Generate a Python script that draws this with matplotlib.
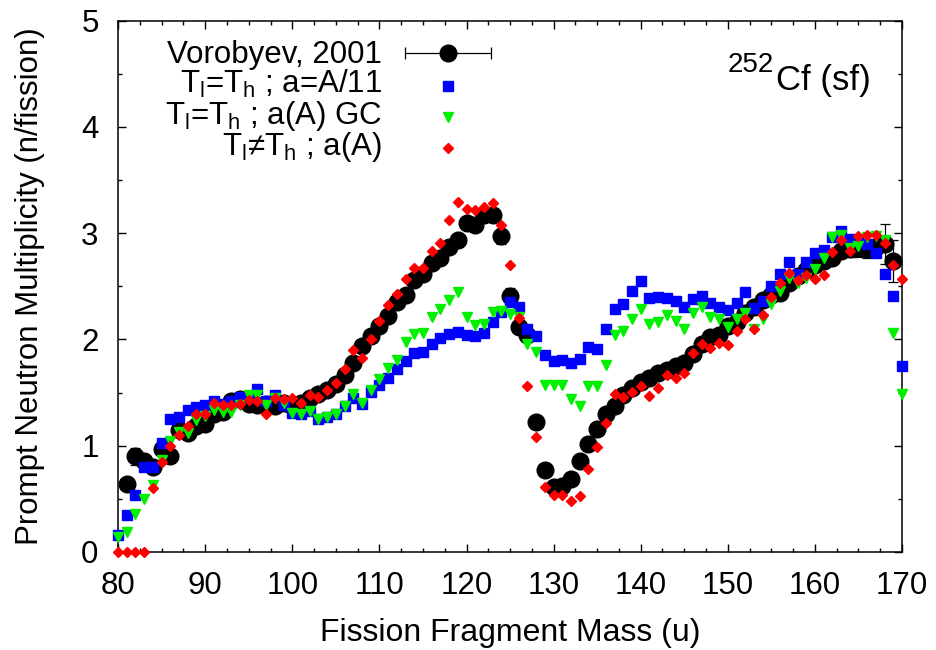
import numpy as np
import matplotlib
matplotlib.use("Agg")
import matplotlib.pyplot as plt

plt.rcParams['font.family'] = ['Liberation Sans', 'DejaVu Sans']
plt.rcParams['mathtext.fontset'] = 'custom'
plt.rcParams['mathtext.rm'] = 'Liberation Sans'
plt.rcParams['mathtext.it'] = 'Liberation Sans'
plt.rcParams['mathtext.default'] = 'regular'

# ---------------- data ----------------
mass_exp = list(range(81, 170))
nu_exp = [0.64, 0.90, 0.86, 0.80, 0.97, 0.90, 1.15, 1.12, 1.19, 1.20,
          1.30, 1.32, 1.42, 1.44, 1.39, 1.38, 1.39, 1.37, 1.40, 1.37,
          1.40, 1.45, 1.49, 1.52, 1.58, 1.67, 1.78, 1.94, 2.03, 2.13,
          2.22, 2.35, 2.42, 2.56, 2.62, 2.72, 2.77, 2.87, 2.94, 3.10,
          3.08, 3.17, 3.17, 2.97, 2.41, 2.12, 2.04, 1.22, 0.77, 0.61,
          0.62, 0.69, 0.86, 1.02, 1.16, 1.30, 1.37, 1.48, 1.54, 1.60,
          1.64, 1.68, 1.71, 1.75, 1.78, 1.86, 1.96, 2.02, 2.04, 2.13,
          2.16, 2.25, 2.31, 2.37, 2.42, 2.44, 2.53, 2.60, 2.65, 2.70,
          2.74, 2.77, 2.83, 2.85, 2.86, 2.85, 2.87, 2.90, 2.74]
err_exp = [0.05, 0.08, 0.05, 0.04, 0.04, 0.03, 0.03, 0.03, 0.03, 0.03,
           0.03, 0.03, 0.03, 0.03, 0.03, 0.03, 0.03, 0.03, 0.03, 0.03,
           0.03, 0.03, 0.03, 0.03, 0.03, 0.03, 0.03, 0.03, 0.03, 0.03,
           0.03, 0.03, 0.03, 0.03, 0.03, 0.03, 0.03, 0.03, 0.03, 0.03,
           0.03, 0.04, 0.05, 0.07, 0.07, 0.06, 0.05, 0.04, 0.03, 0.03,
           0.03, 0.03, 0.03, 0.03, 0.03, 0.03, 0.03, 0.03, 0.03, 0.03,
           0.03, 0.03, 0.03, 0.03, 0.03, 0.03, 0.03, 0.03, 0.03, 0.03,
           0.03, 0.03, 0.03, 0.03, 0.03, 0.03, 0.03, 0.03, 0.03, 0.04,
           0.04, 0.05, 0.06, 0.07, 0.08, 0.08, 0.08, 0.19, 0.20]

mass_calc = list(range(80, 171))
nu_a11 = [0.16, 0.35, 0.54, 0.80, 0.80, 1.03, 1.25, 1.27, 1.34, 1.36,
          1.38, 1.42, 1.39, 1.42, 1.46, 1.45, 1.53, 1.42, 1.48, 1.38,
          1.31, 1.30, 1.33, 1.25, 1.27, 1.30, 1.37, 1.45, 1.39, 1.51,
          1.57, 1.64, 1.72, 1.80, 1.87, 1.88, 1.96, 2.01, 2.05, 2.07,
          2.04, 2.03, 2.06, 2.16, 2.26, 2.35, 2.31, 2.10, 2.03, 1.85,
          1.80, 1.81, 1.78, 1.82, 1.93, 1.91, 2.10, 2.29, 2.33, 2.46,
          2.55, 2.39, 2.40, 2.39, 2.36, 2.31, 2.38, 2.41, 2.34, 2.31,
          2.28, 2.34, 2.45, 2.30, 2.36, 2.50, 2.62, 2.73, 2.62, 2.73,
          2.81, 2.84, 2.96, 3.02, 2.95, 2.94, 2.90, 2.81, 2.62, 2.41,
          1.75]
nu_gc = [0.14, 0.19, 0.36, 0.50, 0.63, 0.87, 1.04, 1.13, 1.12, 1.24,
         1.28, 1.34, 1.32, 1.32, 1.38, 1.48, 1.48, 1.38, 1.45, 1.40,
         1.31, 1.30, 1.33, 1.25, 1.27, 1.30, 1.37, 1.49, 1.40, 1.52,
         1.63, 1.73, 1.81, 1.98, 2.05, 2.06, 2.21, 2.29, 2.37, 2.45,
         2.21, 2.14, 2.15, 2.26, 2.27, 2.24, 2.21, 1.96, 1.88, 1.57,
         1.57, 1.57, 1.44, 1.37, 1.56, 1.56, 1.76, 2.04, 2.08, 2.19,
         2.29, 2.15, 2.16, 2.23, 2.17, 2.10, 2.25, 2.31, 2.21, 2.19,
         2.12, 2.19, 2.25, 2.10, 2.19, 2.33, 2.46, 2.58, 2.53, 2.58,
         2.66, 2.77, 2.96, 2.98, 2.86, 2.88, 2.96, 2.97, 2.94, 2.06,
         1.49]
nu_tneq = [0.00, 0.00, 0.00, 0.00, 0.60, 0.85, 1.00, 1.10, 1.19, 1.30,
           1.30, 1.40, 1.38, 1.38, 1.39, 1.43, 1.42, 1.30, 1.45, 1.44,
           1.45, 1.40, 1.48, 1.46, 1.52, 1.59, 1.72, 1.90, 1.83, 2.00,
           2.17, 2.32, 2.43, 2.57, 2.67, 2.67, 2.83, 2.91, 3.12, 3.29,
           3.23, 3.22, 3.25, 3.28, 3.08, 2.70, 2.20, 1.56, 1.08, 0.61,
           0.54, 0.54, 0.48, 0.53, 0.78, 0.99, 1.21, 1.49, 1.46, 1.51,
           1.56, 1.47, 1.54, 1.67, 1.64, 1.68, 1.87, 1.96, 1.92, 1.97,
           1.95, 2.08, 2.19, 2.10, 2.23, 2.40, 2.53, 2.63, 2.56, 2.61,
           2.57, 2.61, 2.82, 2.94, 2.83, 2.97, 2.98, 2.98, 2.91, 2.70,
           2.57]

x_ticks = [80, 90, 100, 110, 120, 130, 140, 150, 160, 170]
y_ticks = [0, 1, 2, 3, 4, 5]

lab_exp = 'Vorobyev, 2001'
lab_a11 = r'T$_{l}$=T$_{h}$ ; a=A/11'
lab_gc = r'T$_{l}$=T$_{h}$ ; a(A) GC'
lab_tneq = r'T$_{l}$≠T$_{h}$ ; a(A)'

BLUE = '#0000ff'
GREEN = '#00f000'
RED = '#ff0000'

# ---------------- figure ----------------
fig = plt.figure(figsize=(9.37, 6.5), dpi=100)
ax = fig.add_axes([0.126, 0.1508, 0.8367, 0.8174])

ax.errorbar(mass_exp, nu_exp, yerr=err_exp, fmt='o', color='black',
            ms=12, ecolor='black', elinewidth=0.9, capsize=3.5, capthick=0.9,
            zorder=2, clip_on=False)
ax.plot(mass_calc, nu_a11, 's', color=BLUE, ms=6.5, mec=BLUE, zorder=3, clip_on=False)
ax.plot(mass_calc, nu_gc, 'v', color=GREEN, ms=6.5, mec=GREEN, zorder=4, clip_on=False)
ax.plot(mass_calc, nu_tneq, 'D', color=RED, ms=5.0, mec=RED, zorder=5, clip_on=False)

ax.set_xlim(80, 170)
ax.set_ylim(0, 5)
ax.set_xticks(x_ticks)
ax.set_yticks(y_ticks)
ax.xaxis.set_minor_locator(matplotlib.ticker.MultipleLocator(2.5))
ax.yaxis.set_minor_locator(matplotlib.ticker.MultipleLocator(0.5))
ax.tick_params(which='both', direction='in', top=True, right=True,
               labelsize=22.5, width=1.0)
ax.tick_params(which='major', length=6, pad=14)
ax.tick_params(which='minor', length=3)
for s in ax.spines.values():
    s.set_linewidth(1.1)

ax.set_xlabel('Fission Fragment Mass (u)', fontsize=23, labelpad=12)
ax.set_ylabel('Prompt Neutron Multiplicity (n/fission)', fontsize=22.5, labelpad=26)

# ---------------- key (gnuplot style, right-aligned text, sample to the right) ----------------
tx = 0.3367
mx = 0.421
rows_text = [0.920, 0.8645, 0.8056, 0.7472]
rows_mark = [0.939, 0.877, 0.819, 0.760]
labels = [lab_exp, lab_a11, lab_gc, lab_tneq]
for lab, yt in zip(labels, rows_text):
    ax.text(tx, yt, lab, transform=ax.transAxes, ha='right', va='baseline',
            fontsize=22.5)
hw = 0.0548
ax.errorbar([mx], [rows_mark[0]], xerr=[hw], fmt='o', color='black', ms=12,
            elinewidth=0.9, capsize=4, capthick=0.9, transform=ax.transAxes,
            clip_on=False, zorder=6)
ax.plot([mx], [rows_mark[1]], 's', color=BLUE, ms=6.5, transform=ax.transAxes, clip_on=False)
ax.plot([mx], [rows_mark[2]], 'v', color=GREEN, ms=6.5, transform=ax.transAxes, clip_on=False)
ax.plot([mx], [rows_mark[3]], 'D', color=RED, ms=5.0, transform=ax.transAxes, clip_on=False)

ax.text(0.778, 0.904, '252', transform=ax.transAxes, ha='left', va='baseline',
        fontsize=20)
ax.text(0.839, 0.8696, 'Cf (sf)', transform=ax.transAxes, ha='left', va='baseline',
        fontsize=25)

fig.savefig('out.png', dpi=100)
